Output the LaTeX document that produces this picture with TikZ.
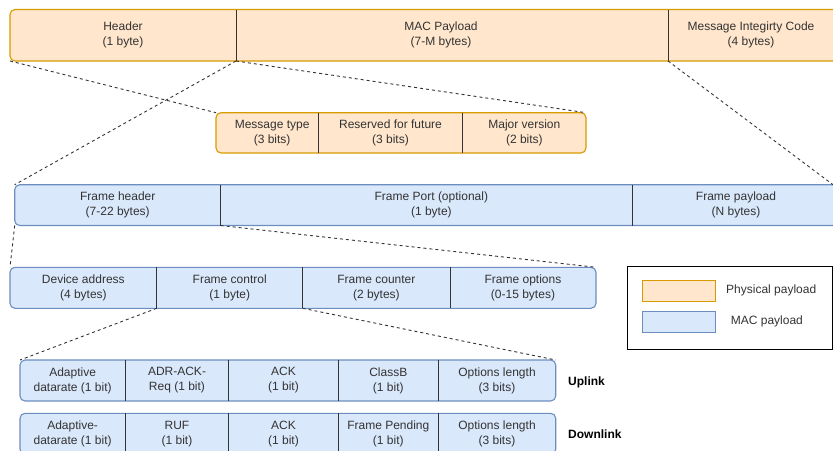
\documentclass[tikz,border=0pt]{standalone}
\usepackage{fontspec}
\setmainfont{Liberation Sans}
\definecolor{ofill}{HTML}{FFE6CC}
\definecolor{odraw}{HTML}{D79B00}
\definecolor{bfill}{HTML}{DAE8FC}
\definecolor{bdraw}{HTML}{6C8EBF}
\definecolor{txt}{HTML}{333333}
\definecolor{divc}{HTML}{333333}
\pgfdeclarelayer{bg}
\pgfsetlayers{bg,main}
\begin{document}
\begin{tikzpicture}[x=1pt,y=-1pt,
  cell/.style={inner sep=0pt, outer sep=0pt, align=center, text=txt,
    font=\fontsize{12}{15}\selectfont},
  obox/.style={fill=ofill, draw=odraw, line width=1.1pt, rounded corners=5pt},
  bbox/.style={fill=bfill, draw=bdraw, line width=1.1pt, rounded corners=5pt},
  divl/.style={draw=divc, line width=0.9pt},
  zoomline/.style={draw=divc, line width=0.9pt, dash pattern=on 3pt off 3pt},
  swO/.style={fill=ofill, draw=odraw, line width=1pt, inner sep=0pt, outer sep=0pt},
  swB/.style={fill=bfill, draw=bdraw, line width=1pt, inner sep=0pt, outer sep=0pt},
  lgtxt/.style={inner sep=0pt, anchor=west, text=txt, font=\fontsize{12}{15}\selectfont},
  dirtxt/.style={inner sep=0pt, anchor=west, text=black, font=\fontsize{12}{15}\selectfont\bfseries}
]
\useasboundingbox (0,0) rectangle (833,450);
\clip (0,0) rectangle (833,450);

% ---------- cells (geometry + text) ----------
% Row 1
\path
 node[cell, minimum width=226pt, minimum height=51.5pt] (hdr) at (123,35.25) {Header\\(1 byte)}
 node[cell, minimum width=432pt, minimum height=51.5pt] (mac) at (452,35.25) {\hspace*{-22pt}MAC Payload\\\hspace*{-22pt}(7-M bytes)}
 node[cell, minimum width=166pt, minimum height=51.5pt] (mic) at (751,35.25) {Message Integirty Code\\(4 bytes)};
% Row 2
\path
 node[cell, minimum width=102.3pt, minimum height=40.3pt] (mt) at (267.15,132.85) {\hspace*{10pt}Message type\\\hspace*{10pt}(3 bits)}
 node[cell, minimum width=144.4pt, minimum height=40.3pt] (rf) at (390.5,132.85) {Reserved for future\\(3 bits)}
 node[cell, minimum width=123.3pt, minimum height=40.3pt] (mv) at (524.35,132.85) {Major version\\(2 bits)};
% Row 3
\path
 node[cell, minimum width=206pt, minimum height=40.8pt] (fh) at (117.7,205.1) {Frame header\\(7-22 bytes)}
 node[cell, minimum width=411.3pt, minimum height=40.8pt] (fp) at (426.35,205.1) {\hspace*{10pt}Frame Port (optional)\\\hspace*{10pt}(1 byte)}
 node[cell, minimum width=208pt, minimum height=40.8pt] (fpl) at (736,205.1) {Frame payload\\(N bytes)};
% Row 4
\path
 node[cell, minimum width=146.7pt, minimum height=41pt] (da) at (83.35,287.8) {Device address\\(4 bytes)}
 node[cell, minimum width=146pt, minimum height=41pt] (fc) at (229.7,287.8) {Frame control\\(1 byte)}
 node[cell, minimum width=147.3pt, minimum height=41pt] (fcn) at (376.35,287.8) {Frame counter\\(2 bytes)}
 node[cell, minimum width=146pt, minimum height=41pt] (fo) at (523,287.8) {Frame options\\(0-15 bytes)};
% Row 5 (uplink)
\path
 node[cell, minimum width=105.3pt, minimum height=41pt] (u1) at (72.65,380.5) {Adaptive\\datarate (1 bit)}
 node[cell, minimum width=103.4pt, minimum height=41pt] (u2) at (177,380.5) {ADR-ACK-\\Req (1 bit)}
 node[cell, minimum width=109.6pt, minimum height=41pt] (u3) at (283.5,380.5) {ACK\\(1 bit)}
 node[cell, minimum width=100pt, minimum height=41pt] (u4) at (388.3,380.5) {ClassB\\(1 bit)}
 node[cell, minimum width=117.4pt, minimum height=41pt] (u5) at (497,380.5) {Options length\\(3 bits)};
% Row 6 (downlink)
\path
 node[cell, minimum width=105.3pt, minimum height=41pt] (d1) at (72.65,433.8) {Adaptive-\\datarate (1 bit)}
 node[cell, minimum width=103.4pt, minimum height=41pt] (d2) at (177,433.8) {RUF\\(1 bit)}
 node[cell, minimum width=109.6pt, minimum height=41pt] (d3) at (283.5,433.8) {ACK\\(1 bit)}
 node[cell, minimum width=100pt, minimum height=41pt] (d4) at (388.3,433.8) {Frame Pending\\(1 bit)}
 node[cell, minimum width=117.4pt, minimum height=41pt] (d5) at (497,433.8) {Options length\\(3 bits)};

% ---------- row outlines and dividers (behind text) ----------
\begin{pgfonlayer}{bg}
  \draw[obox] (hdr.north west) rectangle ([xshift=12pt]mic.south east);
  \draw[obox] (mt.north west) rectangle (mv.south east);
  \draw[bbox] (fh.north west) rectangle (fpl.south east);
  \draw[bbox] (da.north west) rectangle (fo.south east);
  \draw[bbox] (u1.north west) rectangle (u5.south east);
  \draw[bbox] (d1.north west) rectangle (d5.south east);

  \foreach \c in {hdr,mac,mt,rf,fh,fp,da,fc,fcn,u1,u2,u3,u4,d1,d2,d3,d4}
    \draw[divl] (\c.north east) -- (\c.south east);
\end{pgfonlayer}

% ---------- zoom connectors ----------
\draw[zoomline] (hdr.south west) -- (mt.north west);
\draw[zoomline] (hdr.south east) -- (mv.north east);
\draw[zoomline] (hdr.south east) -- (fh.north west);
\draw[zoomline] (mac.south east) -- (833,184.7);
\draw[zoomline] (fh.south west) -- (da.north west);
\draw[zoomline] (fh.south east) -- (fo.north east);
\draw[zoomline] (da.south east) -- (u1.north west);
\draw[zoomline] (fc.south east) -- (u5.north east);

% ---------- direction labels ----------
\node[dirtxt] (up) at (568,382) {Uplink};
\node[dirtxt] (down) at (568,434) {Downlink};

% ---------- legend ----------
\node[draw=black, line width=0.9pt, minimum width=205.2pt, minimum height=82.3pt, inner sep=0pt] (legend) at (729.9,307.85) {};
\node[swO, minimum width=72.7pt, minimum height=21pt] (lo) at (678.65,290.5) {};
\node[swB, minimum width=72.7pt, minimum height=21.3pt] (lb) at (678.65,321.65) {};
\node[lgtxt] (lot) at (726,290.5) {Physical payload};
\node[lgtxt] (lbt) at (730.7,321.65) {MAC payload};
\end{tikzpicture}
\end{document}
